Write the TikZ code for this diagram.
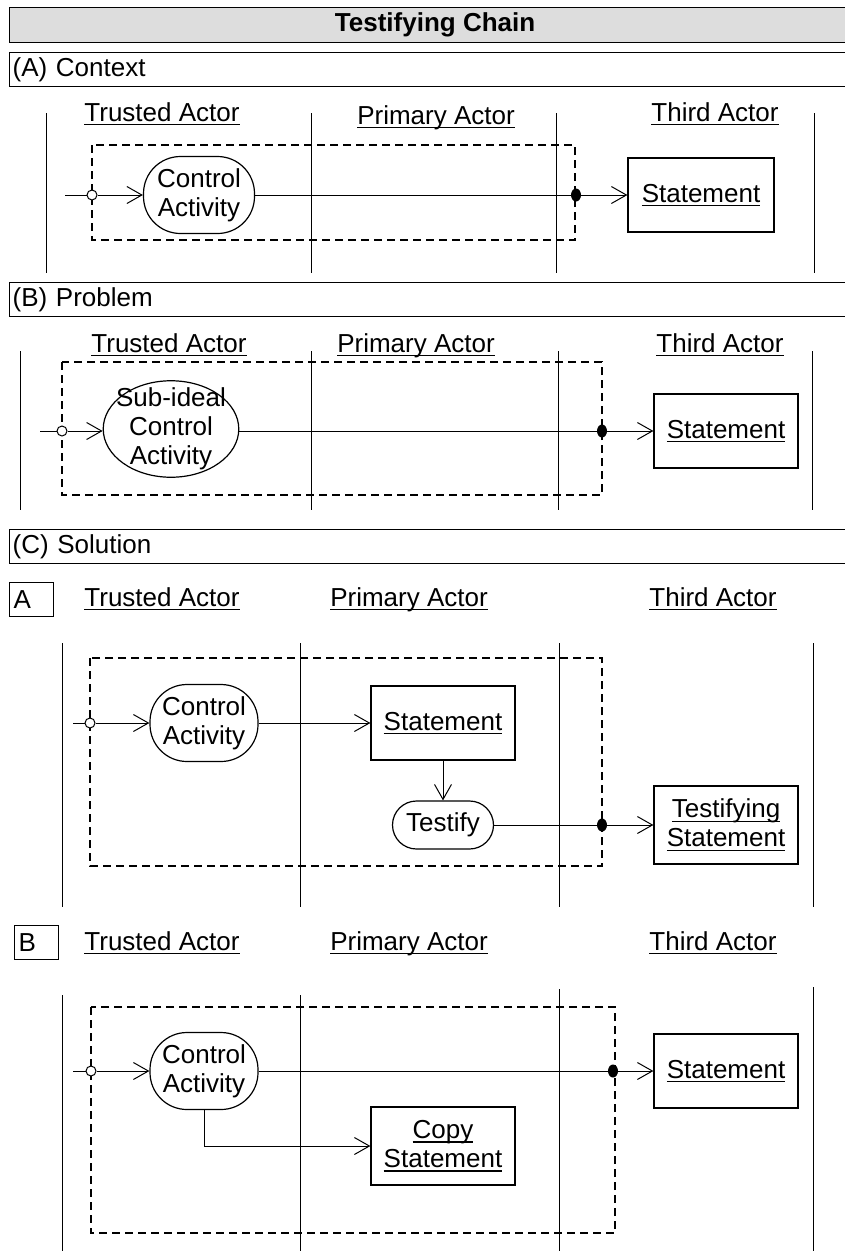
\documentclass[tikz,border=0pt]{standalone}
\usepackage{fontspec}
\setmainfont{Liberation Sans}
\usetikzlibrary{arrows.meta,shapes.geometric}
\definecolor{bargray}{RGB}{221,221,221}
% underline at a fixed depth, crossing the descenders
\newcommand{\undl}[1]{\setbox0=\hbox{#1}\rlap{\rule[-4pt]{\wd0}{1.3pt}}\box0}

\begin{document}
\begin{tikzpicture}[x=1pt,y=-1pt,
  font=\fontsize{26}{29}\selectfont,
  titlebar/.style={draw,fill=bargray,line width=1.2pt,anchor=north west,minimum width=851pt,
    minimum height=35pt,inner sep=0pt,font=\fontsize{26}{30}\selectfont\bfseries},
  secbar/.style={draw,line width=1.2pt,anchor=north west,text width=845pt,minimum height=34pt,
    inner xsep=3pt,inner ysep=0pt,align=left},
  tag/.style={draw,line width=1.2pt,anchor=north west,text width=36pt,minimum height=34pt,
    inner xsep=4pt,inner ysep=0pt,align=left},
  lane/.style={anchor=base,inner sep=0pt},
  lanes/.style={line width=1pt},
  scopebox/.style={line width=1.2pt,dash pattern=on 8pt off 5pt},
  actnode/.style={draw,fill=white,line width=1.2pt,rounded corners=37pt,minimum width=108pt,
    minimum height=77pt,inner sep=0pt,align=center},
  objbox/.style={draw,fill=white,line width=1.2pt,minimum width=144pt,minimum height=76pt,
    inner sep=0pt,align=center},
  startpt/.style={circle,draw,fill=white,line width=1pt,minimum size=10pt,inner sep=0pt},
  endpt/.style={ellipse,fill=black,minimum width=10pt,minimum height=13pt,inner sep=0pt},
  link/.style={line width=1pt},
  flow/.style={line width=1pt,-{Straight Barb[length=15pt,width=17pt]}}]

\path[use as bounding box,fill=white] (0,0) rectangle (845,1251);

% headers
\node[titlebar] (title) at (9,7) {Testifying Chain};
\node[secbar] (secA) at (9,52) {(A) Context};
\node[secbar] (secB) at (9,282) {(B) Problem};
\node[secbar] (secC) at (9,529) {(C) Solution};

% ---- (A) context
\foreach \x in {46,311,556,814}
  \draw[lanes] (\x,113) -- (\x,273);
\draw[scopebox] (92,145) rectangle (575,240);
\node[lane] (trustA) at (162,121) {\undl{Trusted Actor}};
\node[lane] (primA) at (436,124) {\undl{Primary Actor}};
\node[lane] (thirdA) at (715,121) {\undl{Third Actor}};

\coordinate (srcA) at (65,195);
\node[startpt] (inA) at (92,195) {};
\node[actnode,minimum width=111pt] (actA) at (199,195) {Control\\Activity};
\node[endpt] (outA) at (576,195) {};
\node[objbox,minimum width=146pt,minimum height=74pt] (stmtA) at (701,195) {\undl{Statement}};
\draw[link] (srcA) -- (inA);
\draw[flow] (inA) -- (actA);
\draw[link] (actA) -- (outA);
\draw[flow] (outA) -- (stmtA);

% ---- (B) problem
\foreach \x in {20.5,311,558.7,812.5}
  \draw[lanes] (\x,351) -- (\x,510);
\draw[scopebox] (62,362) rectangle (602,495);
\node[lane] (trustB) at (169,352) {\undl{Trusted Actor}};
\node[lane] (primB) at (416,352) {\undl{Primary Actor}};
\node[lane] (thirdB) at (720,352) {\undl{Third Actor}};

\coordinate (srcB) at (40,431);
\node[startpt] (inB) at (62,431) {};
\node[draw,ellipse,fill=white,line width=1.2pt,inner sep=-7pt,align=center] (actB) at (171,429)
  {Sub-ideal\\Control\\Activity};
\node[endpt] (outB) at (602,431) {};
\node[objbox,minimum height=74pt] (stmtB) at (726,431) {\undl{Statement}};
\draw[link] (srcB) -- (inB);
\draw[flow] (inB) -- (inB -| actB.west);
\draw[link] (actB.east |- outB) -- (outB);
\draw[flow] (outB) -- (stmtB);

% ---- (C) solution, variant A
\node[tag] (tagA) at (9,582) {A};
\foreach \x in {62,300,559,813.6}
  \draw[lanes] (\x,643) -- (\x,907);
\draw[scopebox] (90,658) rectangle (602,866);
\node[lane] (trustC) at (162,606) {\undl{Trusted Actor}};
\node[lane] (primC) at (409,606) {\undl{Primary Actor}};
\node[lane] (thirdC) at (713,606) {\undl{Third Actor}};

\coordinate (srcC) at (73,723);
\node[startpt] (inC) at (90,723) {};
\node[actnode] (actC) at (204,723) {Control\\Activity};
\node[objbox,minimum height=74pt] (stmtC) at (443,723) {\undl{Statement}};
\node[actnode,rounded corners=24pt,minimum width=101pt,minimum height=48pt] (testC) at (443,825) {Testify};
\node[endpt] (outC) at (602,825) {};
\node[objbox,minimum height=78pt] (tstmtC) at (726,825) {\undl{Testifying}\\\undl{Statement}};
\draw[link] (srcC) -- (inC);
\draw[flow] (inC) -- (actC);
\draw[flow] (actC) -- (stmtC);
\draw[flow] (stmtC) -- (testC);
\draw[link] (testC) -- (outC);
\draw[flow] (outC) -- (tstmtC);

% ---- (C) solution, variant B
\node[tag] (tagB) at (14,925) {B};
\foreach \x/\t in {62/995,300.6/995,559/989,813.6/987}
  \draw[lanes] (\x,\t) -- (\x,1251);
\draw[scopebox] (91,1007) rectangle (615,1233);
\node[lane] (trustD) at (162,950) {\undl{Trusted Actor}};
\node[lane] (primD) at (409,950) {\undl{Primary Actor}};
\node[lane] (thirdD) at (713,950) {\undl{Third Actor}};

\coordinate (srcD) at (73,1071);
\node[startpt] (inD) at (91,1071) {};
\node[actnode] (actD) at (204,1071) {Control\\Activity};
\node[endpt] (outD) at (613,1071) {};
\node[objbox,minimum height=74pt] (stmtD) at (726,1071) {\undl{Statement}};
\node[objbox,minimum height=78pt] (copyD) at (443,1146) {\undl{Copy}\\\undl{Statement}};
\draw[link] (srcD) -- (inD);
\draw[flow] (inD) -- (actD);
\draw[link] (actD) -- (outD);
\draw[flow] (outD) -- (stmtD);
\draw[flow] (actD) |- (copyD);

\end{tikzpicture}
\end{document}
